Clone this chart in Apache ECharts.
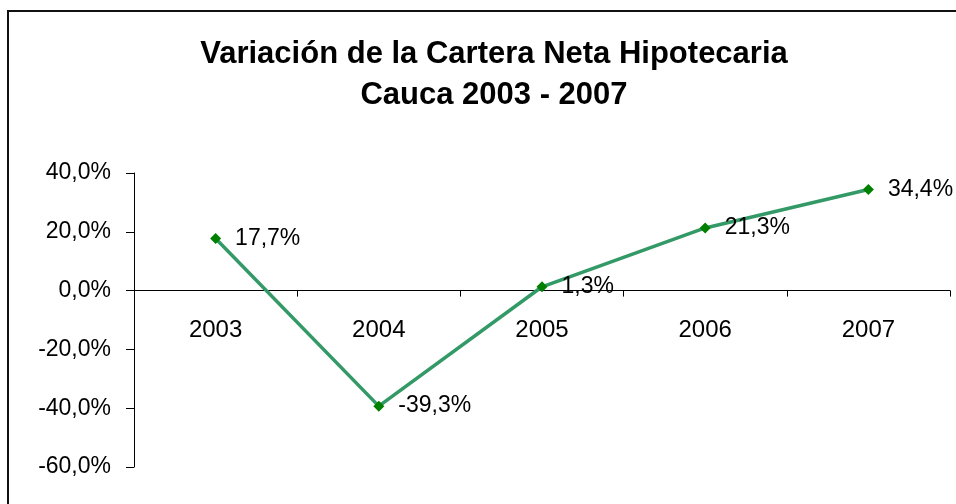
<!DOCTYPE html>
<html>
<head>
<meta charset="utf-8">
<script src="https://cdn.jsdelivr.net/npm/echarts@6/dist/echarts.min.js"></script>
<style>
  html, body { margin: 0; padding: 0; background: #fff; }
  #chart { width: 956px; height: 504px; }
</style>
</head>
<body>
<div id="chart"></div>
<script>
// datos
var years = ["2003", "2004", "2005", "2006", "2007"];
var variacion = [17.7, -39.3, 1.3, 21.3, 34.4];
var yMin = -60;
var yMax = 40;
var yStep = 20;

var font = "'Liberation Sans', Arial, sans-serif";
var gridTop = 173;
var gridBottom = 37;
var plotH = 504 - gridTop - gridBottom;
// el eje x va sobre la linea del cero
var zeroOffset = -plotH * (0 - yMin) / (yMax - yMin);

function pct(v) {
  return v.toFixed(1).replace(".", ",") + "%";
}

var chart = echarts.init(document.getElementById("chart"));
chart.setOption({
  animation: false,
  backgroundColor: "#fff",
  textStyle: { fontFamily: font },
  title: {
    text: "Variación de la Cartera Neta Hipotecaria\nCauca 2003 - 2007",
    left: 489,
    textAlign: "center",
    top: 29,
    textStyle: {
      fontFamily: font,
      fontSize: 31,
      fontWeight: "bold",
      color: "#000",
      lineHeight: 41,
    },
  },
  graphic: [
    {
      type: "rect",
      shape: { x: 8, y: 11, width: 1000, height: 600 },
      style: { fill: "none", stroke: "#111", lineWidth: 2 },
      silent: true,
    },
  ],
  grid: {
    left: 134,
    right: 6,
    top: gridTop,
    bottom: gridBottom,
    outerBoundsMode: "none",
    containLabel: false,
  },
  xAxis: {
    type: "category",
    data: years,
    boundaryGap: true,
    offset: zeroOffset,
    axisLine: { onZero: false, lineStyle: { color: "#000", width: 1 } },
    axisTick: { show: true, length: 6, lineStyle: { color: "#000" } },
    axisLabel: { margin: 28, fontSize: 24, color: "#000", fontFamily: font },
    splitLine: { show: false },
  },
  yAxis: {
    type: "value",
    min: yMin,
    max: yMax,
    interval: yStep,
    axisLine: { show: true, lineStyle: { color: "#000", width: 1 } },
    axisTick: { show: true, length: 8, lineStyle: { color: "#000" } },
    axisLabel: {
      margin: 23,
      fontSize: 23,
      color: "#000",
      fontFamily: font,
      formatter: function (v) { return pct(v); },
    },
    splitLine: { show: false },
  },
  series: [
    {
      type: "line",
      data: variacion,
      symbol: "diamond",
      symbolSize: 11,
      itemStyle: { color: "#008000" },
      lineStyle: { color: "#339966", width: 3.5 },
      label: {
        show: true,
        position: "right",
        distance: 14,
        fontSize: 23,
        color: "#000",
        fontFamily: font,
        formatter: function (p) { return pct(p.value); },
      },
    },
  ],
});
</script>
</body>
</html>
